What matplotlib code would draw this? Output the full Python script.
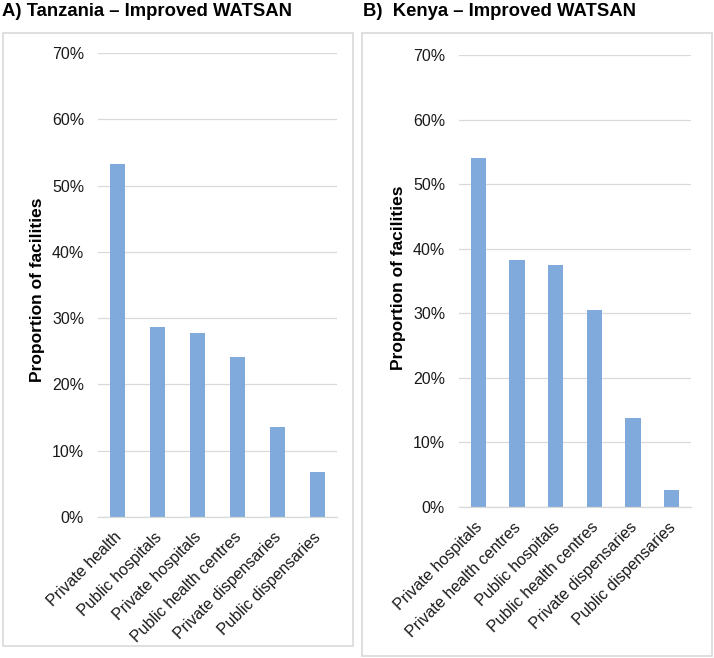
import matplotlib
matplotlib.use("Agg")
import matplotlib.pyplot as plt
import matplotlib.transforms as mtransforms
from matplotlib.patches import Rectangle
from matplotlib.ticker import FuncFormatter

plt.rcParams['font.family'] = ['Liberation Sans', 'DejaVu Sans']

# data (percent of facilities)
tz_labels = ['Private health', 'Public hospitals', 'Private hospitals',
             'Public health centres', 'Private dispensaries', 'Public dispensaries']
tz_values = [53.2, 28.7, 27.8, 24.1, 13.6, 6.8]

ke_labels = ['Private hospitals', 'Private health centres', 'Public hospitals',
             'Public health centres', 'Private dispensaries', 'Public dispensaries']
ke_values = [54.0, 38.3, 37.5, 30.5, 13.8, 2.7]

bar_color = '#7faadb'
grid_color = '#d9d9d9'
W, H = 714, 658

fig = plt.figure(figsize=(W / 100, H / 100), dpi=100)


def px_axes(x0, x1, ytop, ybot):
    return fig.add_axes([x0 / W, 1 - ybot / H, (x1 - x0) / W, (ybot - ytop) / H])


def draw_panel(ax, labels, values, width):
    x = range(len(values))
    ax.bar(x, values, width=width, color=bar_color, zorder=2)
    ax.set_xlim(-0.5, len(values) - 0.5)
    ax.set_ylim(0, 70)
    ax.set_yticks(range(0, 71, 10))
    ax.yaxis.set_major_formatter(FuncFormatter(lambda v, p: f'{v:.0f}%'))
    ax.set_xticks(list(x))
    ax.set_xticklabels(labels, rotation=45, ha='right', va='top', rotation_mode='anchor')
    ax.tick_params(axis='both', length=0, colors='#1a1a1a')
    ax.tick_params(axis='y', pad=10, labelsize=11.5)
    ax.tick_params(axis='x', pad=9, labelsize=11.5)
    # nudge rotated labels left so their ends sit under the bar centres
    shift = mtransforms.ScaledTranslation(-4 / 100, 0, fig.dpi_scale_trans)
    for t in ax.get_xticklabels():
        t.set_transform(t.get_transform() + shift)
    ax.grid(axis='y', color=grid_color, lw=0.9, zorder=0)
    for s in ['top', 'right', 'left']:
        ax.spines[s].set_visible(False)
    ax.spines['bottom'].set_color(grid_color)
    ax.spines['bottom'].set_linewidth(0.9)
    ax.set_axisbelow(True)


# panel frames
fig.patches.append(Rectangle((3 / W, 1 - 646 / H), 350 / W, 613 / H, transform=fig.transFigure,
                             fill=False, edgecolor=grid_color, lw=1.2))
fig.patches.append(Rectangle((362 / W, 1 - 656 / H), 350 / W, 623 / H, transform=fig.transFigure,
                             fill=False, edgecolor=grid_color, lw=1.2))

ax1 = px_axes(98, 337, 53, 517)
draw_panel(ax1, tz_labels, tz_values, 0.38)

ax2 = px_axes(459, 691, 55, 507)
draw_panel(ax2, ke_labels, ke_values, 0.39)

fig.text(2 / W, 1 - 12 / H, 'A) Tanzania \u2013 Improved WATSAN', fontsize=13.3,
         fontweight='bold', ha='left', va='center')
fig.text(363 / W, 1 - 12 / H, 'B)  Kenya \u2013 Improved WATSAN', fontsize=13.3,
         fontweight='bold', ha='left', va='center')

fig.text(38 / W, 1 - 290 / H, 'Proportion of facilities', fontsize=12.5, fontweight='bold',
         rotation=90, ha='center', va='center')
fig.text(398 / W, 1 - 278 / H, 'Proportion of facilities', fontsize=12.5, fontweight='bold',
         rotation=90, ha='center', va='center')

fig.savefig('out.png', dpi=100)
